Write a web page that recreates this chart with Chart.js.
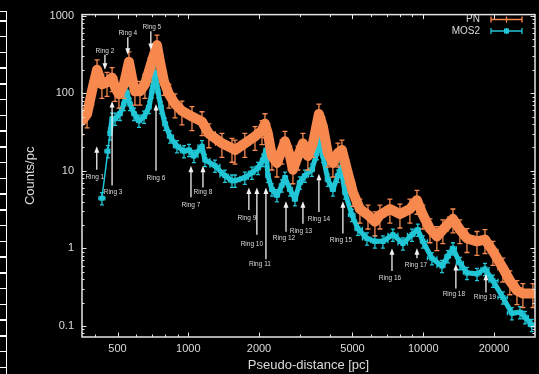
<!DOCTYPE html>
<html>
<head>
<meta charset="utf-8">
<script src="https://cdn.jsdelivr.net/npm/chart.js@4/dist/chart.umd.min.js"></script>
<style>
  html, body { margin: 0; padding: 0; background: #000; }
  #wrap { position: relative; width: 539px; height: 374px; overflow: hidden; background: #000; }
  #c { position: absolute; left: 0; top: 0; }
  #strip {
    position: absolute; left: 0; top: 11px; width: 6px; height: 363px;
    border-top: 1.5px solid #fff; border-right: 1.5px solid #fff;
    background: repeating-linear-gradient(to bottom,
      transparent 0px, transparent 8.2px, #fff 8.2px, #fff 9.7px, transparent 9.7px, transparent 15.75px);
  }
</style>
</head>
<body>
<div id="wrap">
  <canvas id="c" width="539" height="374"></canvas>
  <div id="strip"></div>
</div>
<script>
// Radial profile: counts per pc versus pseudo-distance, PN and MOS2 cameras
const pnDist = [353,371,389,409,429,451,474,488,507,532,559,576,593,623,654,687,714,736,758,788,
  828,878,940,1037,1144,1224,1391,1535,1581,1741,1923,2059,2120,2182,2270,2384,2504,2580,2710,2789,
  2930,3076,3230,3394,3529,3598,3742,3926,4127,4335,4508,4735,5022,5378,5820,6228,6541,7213,7960,8777,
  9402,9970,10680,11430,12120,13380,14320,15350,16930,18310,19800,21830,23380,25050,26550,29300];
const pnCounts = [44.2,54,106,201,130,138,159,119,97,130,254,159,106,106,130,213,312,417,254,142,
  97,73,59,50,43,30,22.6,19.5,18.5,22.6,27.7,33,40.5,30,15.5,12.6,18.5,24,15.5,10.3,
  15.5,22.6,15.5,22.6,40.5,54,37,16.9,12.6,16.9,18.5,10.3,5.27,3.21,2.69,2.20,2.69,3.21,2.77,3.21,
  4.17,2.69,1.79,1.42,1.74,2.40,1.74,1.34,1.23,1.30,0.916,0.558,0.382,0.286,0.262,0.262];

const mosDist = [429,455,464,474,488,512,532,548,565,588,617,648,681,701,722,743,765,796,836,895,
  959,1007,1057,1144,1178,1299,1432,1535,1581,1741,1866,1981,2080,2141,2182,2270,2384,2504,2580,2710,
  2845,2986,3138,3357,3529,3630,3742,3926,4127,4335,4465,4645,4974,5272,5760,6228,6738,7430,8197,8955,
  9484,9970,10890,12010,12740,13380,14320,15350,16930,18310,19800,21830,23840,25800,27100,28970];
const mosCounts = [4.42,17.9,30.3,46.9,46.9,54.2,72.6,103,72.6,54.2,44.2,49.7,66.5,106,185,106,66.5,40.5,27.7,20.7,
  17.9,18.5,15.5,20.7,13.8,11.6,8.65,7.47,7.47,8.15,9.44,10.9,13.8,18.5,8.65,5.75,4.83,6.46,8.15,5.75,
  4.30,7.05,8.65,10.3,16.9,26.2,15.5,7.69,5.75,8.65,10.9,5.27,2.69,1.79,1.34,1.23,1.23,1.50,1.157,1.50,
  1.74,1.23,0.746,0.592,0.793,1.0,0.646,0.483,0.469,0.542,0.382,0.233,0.146,0.150,0.130,0.103];

const xTickLabels = [500, 1000, 2000, 5000, 10000, 20000];
const yTickLabels = [0.1, 1, 10, 100, 1000];

// Ring markers: arrow at distance x, from tail count to tip count
const rings = [
  { t: 'Ring 1',  x: 408,   tail: 10.3,  tip: 20.7, dx: -2 },
  { t: 'Ring 2',  x: 442,   tail: 312,   tip: 201 },
  { t: 'Ring 3',  x: 474,   tail: 6.46,  tip: 79.3, dx: 1 },
  { t: 'Ring 4',  x: 553,   tail: 527,   tip: 312 },
  { t: 'Ring 5',  x: 693,   tail: 627,   tip: 360, dx: 1 },
  { t: 'Ring 6',  x: 729,   tail: 10,    tip: 72.6 },
  { t: 'Ring 7',  x: 1027,  tail: 4.55,  tip: 11.6, dy: 1 },
  { t: 'Ring 8',  x: 1155,  tail: 6.1,   tip: 11.6, dy: -2 },
  { t: 'Ring 9',  x: 1811,  tail: 3.12,  tip: 6.1,  dx: -2, dy: 1 },
  { t: 'Ring 10', x: 1959,  tail: 1.50,  tip: 6.1,  dx: -5, dy: 3 },
  { t: 'Ring 11', x: 2141,  tail: 0.726, tip: 6.1,  dx: -6, dy: -2 },
  { t: 'Ring 12', x: 2606,  tail: 1.64,  tip: 4.06, dx: -2 },
  { t: 'Ring 13', x: 3076,  tail: 2.07,  tip: 4.06, dx: -2 },
  { t: 'Ring 14', x: 3598,  tail: 2.94,  tip: 9.16 },
  { t: 'Ring 15', x: 4551,  tail: 1.55,  tip: 4.06, dx: -2 },
  { t: 'Ring 16', x: 7362,  tail: 0.512, tip: 1.0,  dx: -2 },
  { t: 'Ring 17', x: 9402,  tail: 0.746, tip: 1.0,  dx: -1 },
  { t: 'Ring 18', x: 13770, tail: 0.303, tip: 0.627, dx: -2, dy: -1 },
  { t: 'Ring 19', x: 18490, tail: 0.269, tip: 0.469, dx: -1, dy: -2 }
];

const ORANGE = '#f7894e';
const CYAN = '#20c6d6';
const FG = '#e6e6e6';
const TXT = '#dcdcdc';
const FONT = '"Liberation Sans", Arial, Helvetica, sans-serif';

const pts = (xs, ys) => xs.map((x, i) => ({ x: x, y: ys[i] }));

// x/y error bars drawn under each series
const errorBars = {
  id: 'errorBars',
  beforeDatasetDraw(chart, args) {
    const ds = chart.data.datasets[args.index];
    const frac = ds.errFrac;
    if (!frac) return;
    const xs = chart.scales.x, ys = chart.scales.y, a = chart.chartArea, ctx = chart.ctx;
    const p = ds.data.map(d => [xs.getPixelForValue(d.x), ys.getPixelForValue(d.y),
      ys.getPixelForValue(d.y * (1 - frac)), ys.getPixelForValue(d.y * (1 + frac))]);
    const cap = ds.capSize;
    ctx.save();
    ctx.beginPath();
    ctx.rect(a.left, a.top, a.right - a.left, a.bottom - a.top);
    ctx.clip();
    ctx.strokeStyle = ds.borderColor;
    ctx.lineWidth = 1.3;
    ctx.beginPath();
    p.forEach((q, i) => {
      const xl = i > 0 ? (p[i - 1][0] + q[0]) / 2 : q[0] - 3;
      const xr = i < p.length - 1 ? (p[i + 1][0] + q[0]) / 2 : q[0] + 3;
      ctx.moveTo(q[0], q[2]); ctx.lineTo(q[0], q[3]);
      ctx.moveTo(q[0] - cap, q[2]); ctx.lineTo(q[0] + cap, q[2]);
      ctx.moveTo(q[0] - cap, q[3]); ctx.lineTo(q[0] + cap, q[3]);
      ctx.moveTo(xl, q[1]); ctx.lineTo(xr, q[1]);
      ctx.moveTo(xl, q[1] - cap); ctx.lineTo(xl, q[1] + cap);
      ctx.moveTo(xr, q[1] - cap); ctx.lineTo(xr, q[1] + cap);
    });
    ctx.stroke();
    ctx.restore();
  }
};

function decadeTicks(min, max) {
  const out = [];
  for (let e = Math.floor(Math.log10(min)); e <= Math.ceil(Math.log10(max)); e++) {
    for (let m = 1; m <= 9; m++) {
      const v = +(m * Math.pow(10, e)).toPrecision(6);
      if (v >= min && v <= max) out.push({ v: v, major: m === 1 });
    }
  }
  return out;
}

// Frame with inward ticks on all sides, ring arrows and the key
const frame = {
  id: 'frame',
  afterDraw(chart) {
    const ctx = chart.ctx, a = chart.chartArea, xs = chart.scales.x, ys = chart.scales.y;
    ctx.save();
    ctx.strokeStyle = FG;
    ctx.lineWidth = 1.5;
    ctx.strokeRect(a.left, a.top, a.right - a.left, a.bottom - a.top);
    ctx.lineWidth = 1;
    ctx.beginPath();
    decadeTicks(xs.min, xs.max).forEach(t => {
      const px = Math.round(xs.getPixelForValue(t.v)) + 0.5;
      const len = (t.major || xTickLabels.includes(t.v)) ? 4.5 : 2.5;
      ctx.moveTo(px, a.bottom); ctx.lineTo(px, a.bottom - len);
      ctx.moveTo(px, a.top); ctx.lineTo(px, a.top + len);
    });
    decadeTicks(ys.min, ys.max).forEach(t => {
      const py = Math.round(ys.getPixelForValue(t.v)) + 0.5;
      const len = t.major ? 4.5 : 2.5;
      ctx.moveTo(a.left, py); ctx.lineTo(a.left + len, py);
      ctx.moveTo(a.right, py); ctx.lineTo(a.right - len, py);
    });
    ctx.stroke();

    // ring arrows
    ctx.font = '6.5px ' + FONT;
    ctx.textAlign = 'center';
    ctx.textBaseline = 'middle';
    rings.forEach(r => {
      const x = xs.getPixelForValue(r.x);
      const y1 = ys.getPixelForValue(r.tail);
      const y2 = ys.getPixelForValue(r.tip);
      const dir = Math.sign(y2 - y1);
      ctx.strokeStyle = '#f2f2f2';
      ctx.fillStyle = '#f2f2f2';
      ctx.lineWidth = 1.3;
      ctx.beginPath();
      ctx.moveTo(x, y1); ctx.lineTo(x, y2 - dir * 5);
      ctx.stroke();
      ctx.beginPath();
      ctx.moveTo(x, y2);
      ctx.lineTo(x - 2.5, y2 - dir * 6.5);
      ctx.lineTo(x + 2.5, y2 - dir * 6.5);
      ctx.closePath();
      ctx.fill();
      ctx.fillStyle = TXT;
      const ly = dir < 0 ? y1 + 7 : y1 - 4;
      ctx.fillText(r.t, x + (r.dx || 0), ly + (r.dy || 0));
    });

    // key
    ctx.font = '10px ' + FONT;
    ctx.textAlign = 'right';
    ctx.fillStyle = TXT;
    const keys = [{ t: 'PN', c: ORANGE, y: 19.5, sq: false }, { t: 'MOS2', c: CYAN, y: 31, sq: true }];
    keys.forEach(k => {
      ctx.fillText(k.t, 480, k.y);
      ctx.strokeStyle = k.c;
      ctx.lineWidth = 1.3;
      ctx.beginPath();
      ctx.moveTo(491, k.y); ctx.lineTo(522, k.y);
      ctx.moveTo(491, k.y - 3); ctx.lineTo(491, k.y + 3);
      ctx.moveTo(522, k.y - 3); ctx.lineTo(522, k.y + 3);
      ctx.moveTo(506.5, k.y - 3); ctx.lineTo(506.5, k.y + 3);
      ctx.stroke();
      if (k.sq) { ctx.fillStyle = k.c; ctx.fillRect(504, k.y - 2.5, 5, 5); ctx.fillStyle = TXT; }
    });
    ctx.restore();
  }
};

new Chart(document.getElementById('c'), {
  type: 'scatter',
  data: {
    datasets: [
      { label: 'PN', data: pts(pnDist, pnCounts), showLine: true, borderColor: ORANGE,
        backgroundColor: ORANGE, borderWidth: 10, pointRadius: 0, errFrac: 0.34, capSize: 2.5,
        borderJoinStyle: 'round', borderCapStyle: 'round' },
      { label: 'MOS2', data: pts(mosDist, mosCounts), showLine: true, borderColor: CYAN,
        backgroundColor: CYAN, borderWidth: 5, pointStyle: 'rect', pointRadius: 3.6,
        pointBorderWidth: 0, errFrac: 0.18, capSize: 2, borderJoinStyle: 'round',
        // the sparse innermost bins are joined by a thin line only
        segment: { borderWidth: c => (c.p0DataIndex < 2 ? 1.5 : 5) } }
    ]
  },
  options: {
    responsive: false,
    animation: false,
    devicePixelRatio: 1,
    layout: { padding: { top: 9, right: 4, left: 0, bottom: 0 } },
    plugins: { legend: { display: false }, tooltip: { enabled: false } },
    scales: {
      x: {
        type: 'logarithmic', min: 353, max: 29900,
        afterBuildTicks: s => { s.ticks = xTickLabels.map(v => ({ value: v })); },
        afterFit: s => { s.height = 37; },
        ticks: { callback: v => String(v), color: TXT, autoSkip: false, maxRotation: 0,
          padding: 5, font: { family: FONT, size: 11 } },
        grid: { display: false, drawTicks: false },
        border: { display: false },
        title: { display: true, text: 'Pseudo-distance [pc]', color: TXT,
          font: { family: FONT, size: 13 }, padding: { top: 0, bottom: 1 } }
      },
      y: {
        type: 'logarithmic', min: 0.072, max: 1030,
        afterBuildTicks: s => { s.ticks = yTickLabels.map(v => ({ value: v })); },
        afterFit: s => { s.width = 82; },
        ticks: { callback: v => String(v), color: TXT, autoSkip: false,
          padding: 8, font: { family: FONT, size: 11 } },
        grid: { display: false, drawTicks: false },
        border: { display: false },
        title: { display: true, text: 'Counts/pc', color: TXT,
          font: { family: FONT, size: 13 }, padding: { top: 23, bottom: 0 } }
      }
    }
  },
  plugins: [errorBars, frame]
});
</script>
</body>
</html>
